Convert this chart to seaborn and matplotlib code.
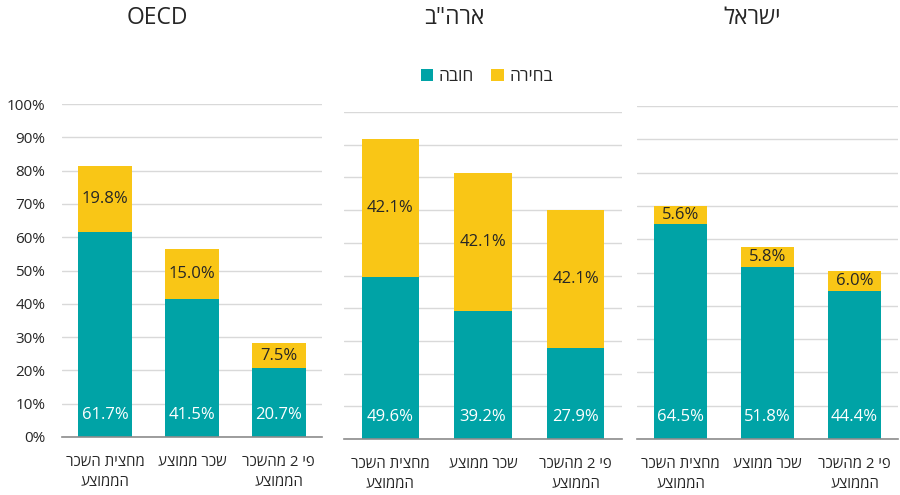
import matplotlib
matplotlib.use("Agg")
import matplotlib.pyplot as plt
from matplotlib.patches import Patch
from matplotlib.ticker import FuncFormatter
import seaborn as sns
import pandas as pd

# ---- data -------------------------------------------------------------
panels = ["OECD", 'ארה"ב', "ישראל"]
categories = ["מחצית השכר\nהממוצע", "שכר ממוצע", "פי 2 מהשכר\nהממוצע"]
series_names = ["חובה", "בחירה"]

mandatory = {
    "OECD": [61.7, 41.5, 20.7],
    'ארה"ב': [49.6, 39.2, 27.9],
    "ישראל": [64.5, 51.8, 44.4],
}
voluntary = {
    "OECD": [19.8, 15.0, 7.5],
    'ארה"ב': [42.1, 42.1, 42.1],
    "ישראל": [5.6, 5.8, 6.0],
}
y_ticks = [0, 10, 20, 30, 40, 50, 60, 70, 80, 90, 100]

# ---- style ------------------------------------------------------------
TEAL = "#00A3A6"
YELLOW = "#F9C616"
TEXT = "#262626"
GRID = "#D9D9D9"
BASE = "#8C8C8C"

sns.set_theme(style="white")
plt.rcParams["font.family"] = ["Open Sans", "Liberation Sans", "DejaVu Sans"]
plt.rcParams["text.color"] = TEXT


def visual(s):
    """Hebrew is right-to-left: lay each line out in display order."""
    if any("\u0590" <= c <= "\u05FF" for c in s):
        return "\n".join(line[::-1] for line in s.split("\n"))
    return s


fig = plt.figure(figsize=(9, 4.95), dpi=100)
W, H = 900, 495

# axes boxes in pixels: left, baseline y, width, height
boxes = [
    (62, 437, 260, 333),
    (344, 439, 278, 327),
    (637, 439, 261, 333),
]
title_x = [157, 454, 752]

for i, (name, (x0, yb, w, h)) in enumerate(zip(panels, boxes)):
    ax = fig.add_axes([x0 / W, (H - yb) / H, w / W, h / H])
    bottom = mandatory[name]
    top = voluntary[name]
    total = [b + t for b, t in zip(bottom, top)]
    df = pd.DataFrame({"cat": [visual(c) for c in categories],
                       "bottom": bottom, "total": total})

    sns.barplot(data=df, x="cat", y="total", color=YELLOW, width=0.62,
                saturation=1, linewidth=0, edgecolor="none", ax=ax, zorder=3)
    sns.barplot(data=df, x="cat", y="bottom", color=TEAL, width=0.62,
                saturation=1, linewidth=0, edgecolor="none", ax=ax, zorder=3)

    for j, (b, t) in enumerate(zip(bottom, top)):
        ax.annotate(f"{b:.1f}%", xy=(j, 0), xytext=(0, 16),
                    textcoords="offset points", ha="center", va="center",
                    color="white", fontsize=12, zorder=5)
        ax.text(j, b + t / 2, f"{t:.1f}%", ha="center", va="center",
                color=TEXT, fontsize=12, zorder=5)

    ax.set_ylim(0, 100)
    ax.set_xlim(-0.5, 2.5)
    ax.set_yticks(y_ticks)
    ax.yaxis.set_major_formatter(FuncFormatter(lambda v, p: f"{v:.0f}%"))
    ax.grid(axis="y", color=GRID, linewidth=1, zorder=0)
    ax.grid(axis="x", visible=False)
    for side in ("top", "right", "left"):
        ax.spines[side].set_visible(False)
    ax.spines["bottom"].set_color(BASE)
    ax.spines["bottom"].set_linewidth(1.2)
    ax.spines["bottom"].set_zorder(4)
    ax.set_xlabel("")
    ax.set_ylabel("")
    ax.tick_params(axis="both", length=0, colors=TEXT)
    ax.tick_params(axis="x", labelsize=10.8, pad=13)
    ax.tick_params(axis="y", labelsize=11, pad=12)
    for lab in ax.get_xticklabels():
        lab.set_linespacing(1.45)
        lab.set_multialignment("center")
        lab.set_va("top")
    if i > 0:
        ax.tick_params(axis="y", labelleft=False)

    fig.text(title_x[i] / W, 1 - 18 / H, visual(name), ha="center",
             va="center", fontsize=16.5, color=TEXT)

handles = [Patch(facecolor=TEAL, edgecolor="none", label=visual(series_names[0])),
           Patch(facecolor=YELLOW, edgecolor="none", label=visual(series_names[1]))]
fig.legend(handles=handles, loc="center", bbox_to_anchor=(487 / W, 1 - 77 / H),
           ncol=2, frameon=False, fontsize=12.5, handlelength=0.7,
           handleheight=0.7, handletextpad=0.35, columnspacing=1.0)

fig.savefig("out.png", dpi=100)
